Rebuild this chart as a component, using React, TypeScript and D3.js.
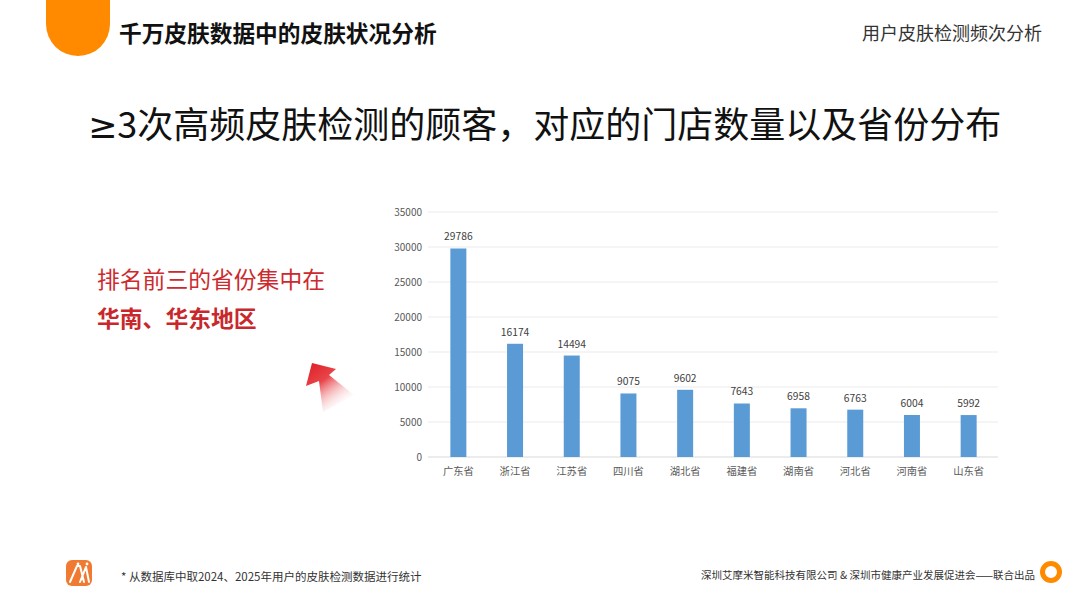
import React from "react";
import * as d3 from "d3";

const provinces = ["广东省", "浙江省", "江苏省", "四川省", "湖北省", "福建省", "湖南省", "河北省", "河南省", "山东省"];
const customers = [29786, 16174, 14494, 9075, 9602, 7643, 6958, 6763, 6004, 5992];
const yTicks = [0, 5000, 10000, 15000, 20000, 25000, 30000, 35000];

const FONT = "'Noto Sans CJK SC', 'Noto Sans', sans-serif";

export default function App() {
  const W = 1080, H = 600;
  const x = d3.scaleBand<string>().domain(provinces).range([430, 997]).paddingInner(0.72).paddingOuter(0.36);
  const y = d3.scaleLinear().domain([0, 35000]).range([457, 212]);
  const bw = 16;

  const arrowPts: [number, number][] = [
    [312, 363], [336, 369], [329, 375], [354, 395], [323, 412], [319, 381], [306, 386],
  ];

  return (
    <div style={{ position: "fixed", left: 0, top: 0, width: W, height: H }}>
      <svg width={W} height={H} style={{ display: "block", fontFamily: FONT }}>
        <defs>
          <linearGradient id="arrowGrad" gradientUnits="userSpaceOnUse" x1="312" y1="366" x2="342" y2="408">
            <stop offset="0%" stopColor="#e0262c" />
            <stop offset="35%" stopColor="#e8454a" />
            <stop offset="100%" stopColor="#ffffff" stopOpacity={0.1} />
          </linearGradient>
        </defs>
        <rect width={W} height={H} fill="#ffffff" />

        {/* Top-left orange tab */}
        <path d="M46,0 H110 V24 A32,32 0 0 1 46,24 Z" fill="#ff8a00" />
        <text x={119} y={42} fontSize={22.7} fontWeight={700} fill="#111">千万皮肤数据中的皮肤状况分析</text>
        <text x={1042} y={40} fontSize={18} fill="#333" textAnchor="end">用户皮肤检测频次分析</text>

        {/* Main heading */}
        <text x={88} y={138} fontSize={36} fill="#111">
          <tspan fontFamily="'DejaVu Sans', sans-serif" fontSize={35}>≥</tspan>
          <tspan>3次高频皮肤检测的顾客，对应的门店数量以及省份分布</tspan>
        </text>

        {/* Left annotation */}
        <text x={97} y={288} fontSize={22.8} fill="#cc2a2e">排名前三的省份集中在</text>
        <text x={97} y={327} fontSize={22.8} fontWeight={700} fill="#c8282c">华南、华东地区</text>
        <polygon points={arrowPts.map(p => p.join(",")).join(" ")} fill="url(#arrowGrad)" />

        {/* Grid + y ticks */}
        {yTicks.map(t => (
          <g key={t}>
            <line x1={428} x2={998} y1={y(t)} y2={y(t)} stroke={t === 0 ? "#d9d9d9" : "#ebebeb"} strokeWidth={1} />
            <text x={422} y={y(t)} dy="0.35em" fontSize={10} fill="#595959" textAnchor="end">{t}</text>
          </g>
        ))}

        {/* Bars */}
        {provinces.map((p, i) => {
          const cx = (x(p) as number) + x.bandwidth() / 2;
          const v = customers[i];
          return (
            <g key={p}>
              <rect x={cx - bw / 2} y={y(v)} width={bw} height={y(0) - y(v)} fill="#5b9bd5" />
              <text x={cx} y={y(v) - 8} fontSize={10.3} fill="#404040" textAnchor="middle">{v}</text>
              <text x={cx} y={475} fontSize={10.3} fill="#595959" textAnchor="middle">{p}</text>
            </g>
          );
        })}

        {/* Footer */}
        <rect x={66} y={560} width={26} height={26} rx={6} fill="#f07a32" />
        <path d="M70,582 L77,566 L80,566 L84,582 M80,582 L86,567 L89,582" stroke="#fff" strokeWidth={2} fill="none" strokeLinecap="round" strokeLinejoin="round" />
        <circle cx={78} cy={564} r={1.4} fill="#fff" />
        <circle cx={87} cy={564} r={1.4} fill="#fff" />
        <text x={121} y={581} fontSize={11.5} fill="#333">* 从数据库中取2024、2025年用户的皮肤检测数据进行统计</text>
        <text x={1035} y={579} fontSize={10.5} fill="#333" textAnchor="end">深圳艾摩米智能科技有限公司 &amp; 深圳市健康产业发展促进会——联合出品</text>
        <circle cx={1051} cy={572} r={8.5} fill="none" stroke="#ff8a00" strokeWidth={5} />
      </svg>
    </div>
  );
}
